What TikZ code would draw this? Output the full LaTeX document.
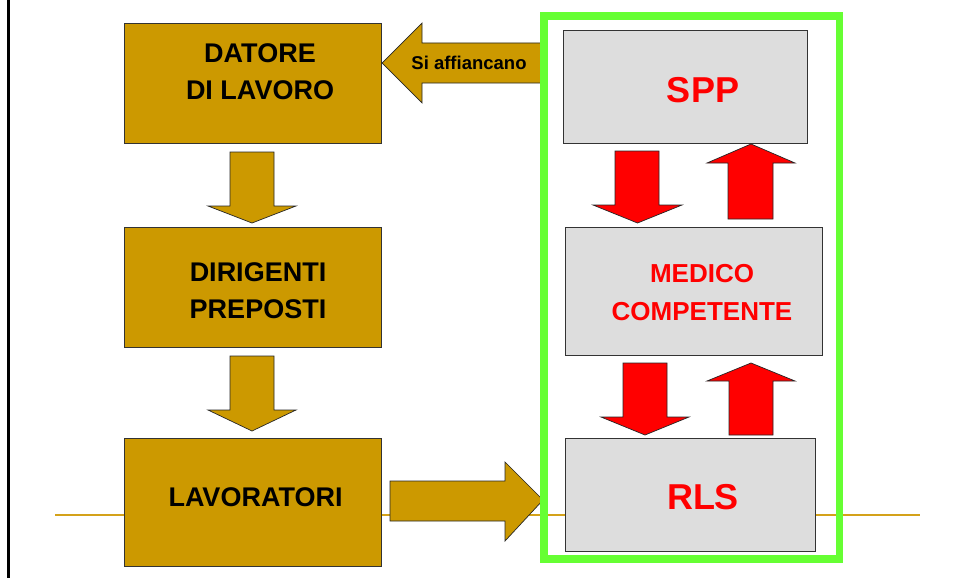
\documentclass[tikz,border=0pt]{standalone}
\usepackage{fontspec}
\setmainfont{Liberation Sans}
\begin{document}
\begin{tikzpicture}[x=1pt,y=-1pt,
  goldbox/.style={draw=black!80,line width=0.8pt,fill=gold,rectangle,inner sep=0pt},
  graybox/.style={draw=black!80,line width=0.8pt,fill=boxgray,rectangle,inner sep=0pt},
  goldarrow/.style={draw=black!85,line width=0.7pt,fill=gold},
  redarrow/.style={draw=black!85,line width=0.7pt,fill=red},
  blacktext/.style={font=\fontsize{27}{37}\selectfont\bfseries,text=black,align=center,inner sep=0pt},
  redbig/.style={font=\fontsize{36}{40}\selectfont\bfseries,text=red,align=center,inner sep=0pt},
  redmid/.style={font=\fontsize{26}{38}\selectfont\bfseries,text=red,align=center,inner sep=0pt}]
\definecolor{gold}{HTML}{CC9900}
\definecolor{boxgray}{HTML}{DDDDDD}
\definecolor{frame}{HTML}{66FF33}
\definecolor{rule}{HTML}{D4A21A}
\useasboundingbox (0,0) rectangle (955,578);
\fill[white] (0,0) rectangle (955,578);
% background lines
\draw[black,line width=2.5pt] (8.5,0) -- (8.5,578);
\draw[rule,line width=1.6pt] (55,515) -- (920,515);
% left column boxes
\node[goldbox,minimum width=257pt,minimum height=120pt] (datore) at (252.5,83) {};
\node[goldbox,minimum width=257pt,minimum height=120pt] (dirigenti) at (252.5,287) {};
\node[goldbox,minimum width=257pt,minimum height=128pt] (lavoratori) at (252.5,502) {};
\node[blacktext] (tdatore) at (260,71.5) {DATORE\\DI LAVORO};
\node[blacktext] (tdirigenti) at (258,290.5) {DIRIGENTI\\PREPOSTI};
\node[blacktext] (tlavoratori) at (255.5,497) {LAVORATORI};
% gold arrows down
\draw[goldarrow] (230,152) -- (274,152) -- (274,206) -- (296,206) -- (252,223) -- (208,206) -- (230,206) -- cycle;
\draw[goldarrow] (230,356) -- (274,356) -- (274,410) -- (296,410) -- (252,431) -- (208,410) -- (230,410) -- cycle;
% gold arrow right
\draw[goldarrow] (390,481) -- (505,481) -- (505,462) -- (543,500) -- (505,541) -- (505,521) -- (390,521) -- cycle;
% gold arrow left (Si affiancano)
\draw[goldarrow] (541,43) -- (422,43) -- (422,23) -- (382,63) -- (422,103) -- (422,83) -- (541,83) -- cycle;
\node[font=\fontsize{18.5}{20}\selectfont\bfseries,inner sep=0pt] (taff) at (469,63) {Si affiancano};
% right column
\node[graybox,minimum width=244pt,minimum height=113pt] (spp) at (685,86.5) {};
\node[graybox,minimum width=257pt,minimum height=128pt] (medico) at (693.5,291) {};
\node[graybox,minimum width=250pt,minimum height=113pt] (rls) at (690,494.5) {};
\node[redbig] (tspp) at (703,90) {SPP};
\node[redmid] (tmedico) at (702,293) {MEDICO\\COMPETENTE};
\node[redbig] (trls) at (703,497) {RLS};
% red arrows
\draw[redarrow] (615,151) -- (659,151) -- (659,205) -- (682,205) -- (637.5,223) -- (593,205) -- (615,205) -- cycle;
\draw[redarrow] (728,219) -- (773,219) -- (773,163) -- (795,163) -- (751,144) -- (707,163) -- (728,163) -- cycle;
\draw[redarrow] (623,363) -- (667,363) -- (667,417) -- (689,417) -- (645,435) -- (601,417) -- (623,417) -- cycle;
\draw[redarrow] (729,435) -- (773,435) -- (773,381) -- (795,381) -- (751,363) -- (707,381) -- (729,381) -- cycle;
% green frame
\draw[frame,line width=7.5pt] (544,16) rectangle (839.5,559);
\end{tikzpicture}
\end{document}
